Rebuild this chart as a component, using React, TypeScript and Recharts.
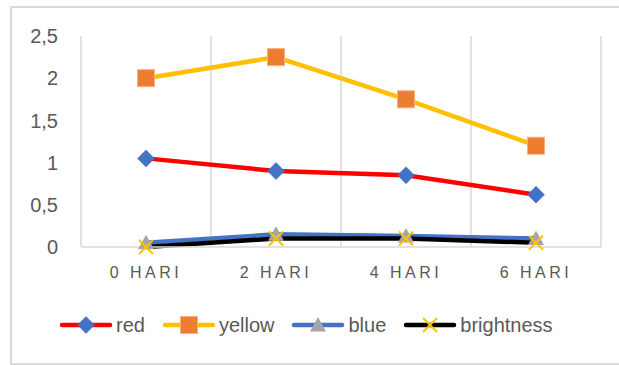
import React from 'react';
import { LineChart, Line, XAxis, YAxis, CartesianGrid } from 'recharts';

const days = ['0 HARI', '2 HARI', '4 HARI', '6 HARI'];
const red = [1.05, 0.9, 0.85, 0.62];
const yellow = [2, 2.25, 1.75, 1.2];
const blue = [0.05, 0.15, 0.13, 0.1];
const brightness = [0, 0.1, 0.1, 0.05];
const yTicks = [0, 0.5, 1, 1.5, 2, 2.5];

const data = days.map((name, i) => ({
  name,
  red: red[i],
  yellow: yellow[i],
  blue: blue[i],
  brightness: brightness[i],
}));

const font = '"Liberation Sans", Arial, sans-serif';
const textColor = '#595959';
const gridColor = '#d9d9d9';

type Shape = 'diamond' | 'square' | 'triangle' | 'x';

const MarkerShape = ({ cx, cy, shape }: { cx: number; cy: number; shape: Shape }) => {
  if (cx == null || cy == null) return null;
  if (shape === 'diamond') {
    const r = 8.5;
    return <path d={`M${cx},${cy - r}L${cx + r},${cy}L${cx},${cy + r}L${cx - r},${cy}Z`} fill="#4472C4" stroke="#4472C4" strokeWidth={0.5} />;
  }
  if (shape === 'square') {
    const s = 8.5;
    return <rect x={cx - s} y={cy - s} width={s * 2} height={s * 2} fill="#ED7D31" stroke="#F4B183" strokeWidth={1} />;
  }
  if (shape === 'triangle') {
    const r = 8;
    return <path d={`M${cx},${cy - r}L${cx + r},${cy + r * 0.8}L${cx - r},${cy + r * 0.8}Z`} fill="#A5A5A5" />;
  }
  const r = 7;
  return (
    <g stroke="#FFC000" strokeWidth={2}>
      <line x1={cx - r} y1={cy - r} x2={cx + r} y2={cy + r} />
      <line x1={cx - r} y1={cy + r} x2={cx + r} y2={cy - r} />
    </g>
  );
};

const series: { key: string; color: string; shape: Shape }[] = [
  { key: 'red', color: '#FF0000', shape: 'diamond' },
  { key: 'yellow', color: '#FFC000', shape: 'square' },
  { key: 'blue', color: '#4472C4', shape: 'triangle' },
  { key: 'brightness', color: '#000000', shape: 'x' },
];

const LegendRow = () => (
  <div
    style={{
      position: 'absolute',
      top: 312,
      left: 59,
      display: 'flex',
      alignItems: 'center',
      fontFamily: font,
      fontSize: 20,
      color: textColor,
    }}
  >
    {series.map((s) => (
      <div key={s.key} style={{ display: 'flex', alignItems: 'center', marginRight: 17 }}>
        <svg width={54} height={26}>
          <line x1={3} y1={13} x2={51} y2={13} stroke={s.color} strokeWidth={4.5} strokeLinecap="round" />
          <MarkerShape cx={27} cy={13} shape={s.shape} />
        </svg>
        <span style={{ marginLeft: 3 }}>{s.key}</span>
      </div>
    ))}
  </div>
);

const App: React.FC = () => {
  return (
    <div style={{ position: 'absolute', left: 0, top: 0, width: 619, height: 365, overflow: 'hidden', background: '#fff' }}>
      <div
        style={{
          position: 'absolute',
          left: 10,
          top: 6,
          width: 640,
          height: 355,
          border: `2px solid ${gridColor}`,
        }}
      />
      <LineChart
        width={619}
        height={365}
        data={data}
        margin={{ top: 36, right: 18, left: 0, bottom: 88 }}
      >
        <CartesianGrid
          horizontal={false}
          stroke={gridColor}
          strokeWidth={1.5}
          verticalCoordinatesGenerator={({ offset }: any) =>
            days.map((_, i) => offset.left + ((i + 1) * offset.width) / days.length)
          }
        />
        <XAxis
          dataKey="name"
          padding={{ left: 65, right: 65 }}
          height={30}
          stroke={gridColor}
          strokeWidth={1.5}
          tickLine={false}
          tickSize={0}
          tickMargin={20}
          tick={{ fill: textColor, fontSize: 16, fontFamily: font, letterSpacing: 3.5 }}
        />
        <YAxis
          width={81}
          domain={[0, 2.5]}
          ticks={yTicks}
          stroke={gridColor}
          strokeWidth={1.5}
          tickLine={false}
          tickSize={0}
          tickMargin={23}
          tickFormatter={(v: number) => String(v).replace('.', ',')}
          tick={{ fill: textColor, fontSize: 20, fontFamily: font }}
        />
        {series.map((s) => (
          <Line
            key={s.key}
            type="linear"
            dataKey={s.key}
            stroke={s.color}
            strokeWidth={4.5}
            isAnimationActive={false}
            dot={(p: any) => <MarkerShape key={`${s.key}-${p.index}`} cx={p.cx} cy={p.cy} shape={s.shape} />}
            activeDot={false}
          />
        ))}
      </LineChart>
      <LegendRow />
    </div>
  );
};

export default App;
